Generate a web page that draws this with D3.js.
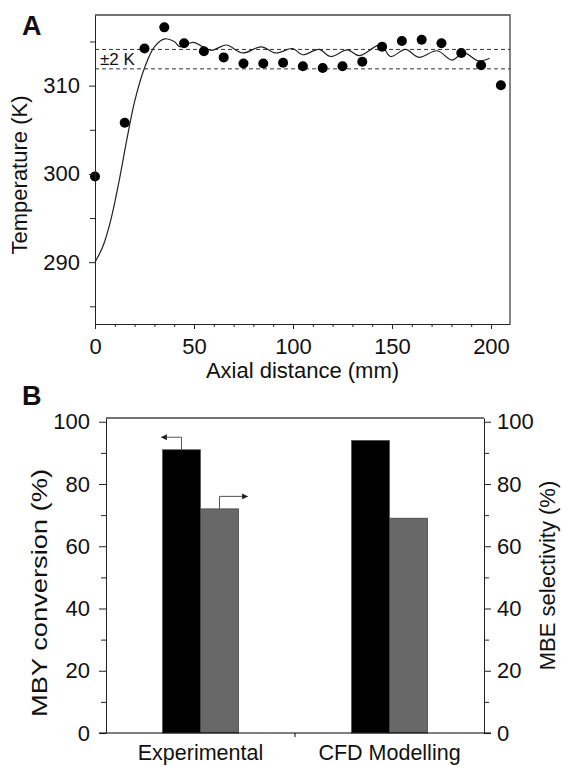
<!DOCTYPE html>
<html lang="en">
<head>
  <meta charset="UTF-8">
  <title>Temperature profile and MBY conversion</title>
  <script src="https://d3js.org/d3.v7.min.js"></script>
  <style>
    body { margin: 0; background: #fff; }
    text { font-family: "Liberation Sans", Arial, sans-serif; fill: #111; }
  </style>
</head>
<body>
  <div id="chart"></div>
  <script>
    // panel A - measured temperatures along the reactor
    var distA = [0, 15, 25, 35, 45, 55, 65, 75, 85, 95, 105, 115, 125, 135, 145, 155, 165, 175, 185, 195, 205];
    var tempA = [299.7, 305.8, 314.2, 316.6, 314.8, 313.9, 313.2, 312.5, 312.5, 312.6, 312.2, 312.0, 312.2, 312.7, 314.4, 315.05, 315.2, 314.8, 313.7, 312.3, 310.05];

    // panel A - simulated profile (solid line)
    var curveX = [0, 4, 8, 12, 16, 20, 25, 30, 35.3, 40, 43, 49.5, 58.7, 66.3, 74.6, 83.9, 91.4, 99.8, 104.8, 113.2, 119, 127.5, 133.4, 144.3, 149.3, 156.8, 163.6, 172.8, 180.3, 186.2, 193.8, 199.3];
    var curveT = [290, 291.8, 294.8, 299, 303.8, 308.2, 312, 314.4, 315.3, 315.0, 314.4, 314.9, 314.0, 314.6, 313.7, 314.4, 313.7, 314.2, 313.5, 314.1, 313.3, 314.05, 313.4, 314.6, 313.3, 314.1, 313.2, 313.95, 312.9, 313.7, 312.8, 313.1];

    var bandLines = [314.1, 311.9];
    var tempTicks = [290, 300, 310];
    var tempMinor = [285, 295, 305, 315];
    var distTicks = [0, 50, 100, 150, 200];
    var distMinor = [10, 20, 30, 40, 60, 70, 80, 90, 110, 120, 130, 140, 160, 170, 180, 190];

    // panel B - bars
    var categories = ["Experimental", "CFD Modelling"];
    var conversion = [91, 94];
    var selectivity = [72, 69];
    var pctTicks = [0, 20, 40, 60, 80, 100];
    var pctMinor = [10, 30, 50, 70, 90];

    var svg = d3.select("#chart")
      .append("svg")
      .attr("width", 562)
      .attr("height", 766);

    var frameColor = "#444";
    var fs = "22px";

    // ---------- Panel A ----------
    var xA = d3.scaleLinear().domain([0, 209.6]).range([95, 510]);
    var yA = d3.scaleLinear().domain([283, 318]).range([324, 15]);

    var gA = svg.append("g");

    // frame (top + right)
    gA.append("path")
      .attr("d", "M" + xA(0) + "," + yA(318) + "H" + xA(209.6) + "V" + yA(283))
      .attr("fill", "none")
      .attr("stroke", frameColor)
      .attr("stroke-width", 1.3);

    // +/- 2 K band
    gA.selectAll(".band")
      .data(bandLines)
      .enter()
      .append("line")
      .attr("x1", xA(0))
      .attr("x2", xA(209.6))
      .attr("y1", function (d) { return yA(d); })
      .attr("y2", function (d) { return yA(d); })
      .attr("stroke", "#333")
      .attr("stroke-width", 1)
      .attr("stroke-dasharray", "4,3");

    gA.append("text")
      .attr("x", 100)
      .attr("y", yA(313) + 6)
      .style("font-size", "17px")
      .text("±2 K");

    // simulated line
    var line = d3.line()
      .x(function (d) { return xA(d[0]); })
      .y(function (d) { return yA(d[1]); })
      .curve(d3.curveCatmullRom.alpha(0.5));

    gA.append("path")
      .datum(curveX.map(function (x, i) { return [x, curveT[i]]; }))
      .attr("d", line)
      .attr("fill", "none")
      .attr("stroke", "#222")
      .attr("stroke-width", 1.2);

    // measured points
    gA.selectAll(".dot")
      .data(distA)
      .enter()
      .append("circle")
      .attr("cx", function (d) { return xA(d); })
      .attr("cy", function (d, i) { return yA(tempA[i]); })
      .attr("r", 5)
      .attr("fill", "#000");

    // axes
    var axA = gA.append("g").attr("transform", "translate(" + xA(0) + ",0)");
    axA.call(d3.axisLeft(yA).tickValues(tempTicks).tickSize(6).tickPadding(9).tickSizeOuter(0));
    axA.append("g").call(d3.axisLeft(yA).tickValues(tempMinor).tickSize(5).tickFormat(""))
      .select(".domain").remove();

    var axAx = gA.append("g").attr("transform", "translate(0," + yA(283) + ")");
    axAx.call(d3.axisBottom(xA).tickValues(distTicks).tickSize(5).tickPadding(9).tickSizeOuter(0));
    axAx.append("g").call(d3.axisBottom(xA).tickValues(distMinor).tickSize(3).tickFormat(""))
      .select(".domain").remove();

    gA.append("text")
      .attr("transform", "translate(27," + 175 + ") rotate(-90)")
      .attr("text-anchor", "middle")
      .style("font-size", fs)
      .text("Temperature (K)");

    gA.append("text")
      .attr("x", (xA(0) + xA(209.6)) / 2)
      .attr("y", 378)
      .attr("text-anchor", "middle")
      .style("font-size", fs)
      .text("Axial distance (mm)");

    gA.append("text")
      .attr("x", 22)
      .attr("y", 35)
      .style("font-size", "27px")
      .style("font-weight", "bold")
      .text("A");

    // ---------- Panel B ----------
    var xB = d3.scaleBand().domain(categories).range([106, 484]);
    var yB = d3.scaleLinear().domain([0, 101.2]).range([733, 418]);
    var barW = 38;

    var gB = svg.append("g");

    gB.append("path")
      .attr("d", "M" + xB.range()[0] + "," + yB(101.2) + "H" + xB.range()[1])
      .attr("stroke", frameColor)
      .attr("stroke-width", 1.3);

    // black bars - conversion (left axis)
    gB.selectAll(".conv")
      .data(categories)
      .enter()
      .append("rect")
      .attr("x", function (d) { return xB(d) + xB.bandwidth() / 2 - barW; })
      .attr("y", function (d, i) { return yB(conversion[i]); })
      .attr("width", barW)
      .attr("height", function (d, i) { return yB(0) - yB(conversion[i]); })
      .attr("fill", "#000")
      .attr("stroke", "#555")
      .attr("stroke-width", 0.8);

    // gray bars - selectivity (right axis)
    gB.selectAll(".sel")
      .data(categories)
      .enter()
      .append("rect")
      .attr("x", function (d) { return xB(d) + xB.bandwidth() / 2; })
      .attr("y", function (d, i) { return yB(selectivity[i]); })
      .attr("width", barW)
      .attr("height", function (d, i) { return yB(0) - yB(selectivity[i]); })
      .attr("fill", "#686868")
      .attr("stroke", "#444")
      .attr("stroke-width", 0.8);

    // arrows telling which axis each bar belongs to
    var defs = svg.append("defs");
    defs.append("marker")
      .attr("id", "head")
      .attr("viewBox", "0 0 10 10")
      .attr("refX", 9).attr("refY", 5)
      .attr("markerWidth", 9).attr("markerHeight", 6)
      .attr("markerUnits", "userSpaceOnUse")
      .attr("orient", "auto")
      .append("path")
      .attr("d", "M0,0L10,5L0,10Z")
      .attr("fill", "#222");

    var c0 = xB(categories[0]) + xB.bandwidth() / 2;
    var xl = c0 - barW / 2, yl = yB(conversion[0]);
    gB.append("path")
      .attr("d", "M" + xl + "," + yl + "V" + (yl - 12.5) + "H" + (xl - 20))
      .attr("fill", "none")
      .attr("stroke", "#555")
      .attr("stroke-width", 1)
      .attr("marker-end", "url(#head)");

    var xr = c0 + barW / 2, yr = yB(selectivity[0]);
    gB.append("path")
      .attr("d", "M" + xr + "," + yr + "V" + (yr - 12.5) + "H" + (xr + 28))
      .attr("fill", "none")
      .attr("stroke", "#555")
      .attr("stroke-width", 1)
      .attr("marker-end", "url(#head)");

    // left axis
    var axBL = gB.append("g").attr("transform", "translate(106,0)");
    axBL.call(d3.axisLeft(yB).tickValues(pctTicks).tickSize(7).tickPadding(9).tickSizeOuter(0));
    axBL.append("g").call(d3.axisLeft(yB).tickValues(pctMinor).tickSize(5).tickFormat(""))
      .select(".domain").remove();

    // right axis
    var axBR = gB.append("g").attr("transform", "translate(484,0)");
    axBR.call(d3.axisRight(yB).tickValues(pctTicks).tickSize(7).tickPadding(6).tickSizeOuter(0));
    axBR.append("g").call(d3.axisRight(yB).tickValues(pctMinor).tickSize(5).tickFormat(""))
      .select(".domain").remove();

    // bottom axis: category labels, one tick between the groups
    var axBB = gB.append("g").attr("transform", "translate(0," + yB(0) + ")");
    axBB.append("line")
      .attr("x1", 99).attr("x2", 491)
      .attr("stroke", "#000");
    axBB.selectAll(".sep")
      .data(categories.slice(1))
      .enter()
      .append("line")
      .attr("x1", function (d) { return xB(d); })
      .attr("x2", function (d) { return xB(d); })
      .attr("y1", 0).attr("y2", 4)
      .attr("stroke", "#000");
    axBB.selectAll(".cat")
      .data(categories)
      .enter()
      .append("text")
      .attr("x", function (d) { return xB(d) + xB.bandwidth() / 2; })
      .attr("y", 27)
      .attr("text-anchor", "middle")
      .style("font-size", "21.5px")
      .text(function (d) { return d; });

    gB.append("text")
      .attr("transform", "translate(47,593) rotate(-90)")
      .attr("text-anchor", "middle")
      .attr("textLength", 248)
      .attr("lengthAdjust", "spacingAndGlyphs")
      .style("font-size", fs)
      .text("MBY conversion (%)");

    gB.append("text")
      .attr("transform", "translate(555," + ((yB(0) + yB(101.2)) / 2) + ") rotate(-90)")
      .attr("text-anchor", "middle")
      .style("font-size", fs)
      .text("MBE selectivity (%)");

    gB.append("text")
      .attr("x", 22)
      .attr("y", 405)
      .style("font-size", "27px")
      .style("font-weight", "bold")
      .text("B");

    // common axis styling
    svg.selectAll(".tick text").style("font-size", fs).style("fill", "#111");
    svg.selectAll(".domain, .tick line").attr("stroke", "#222");
  </script>
</body>
</html>
